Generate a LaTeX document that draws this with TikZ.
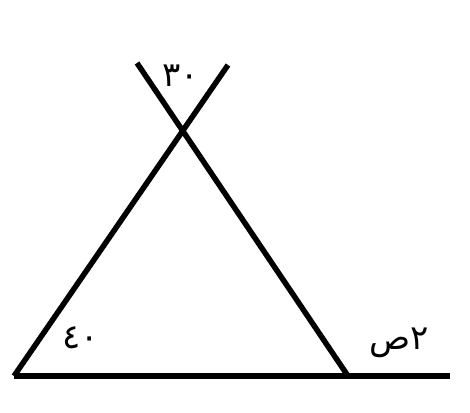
\documentclass[tikz,border=0pt]{standalone}
\usepackage{fontspec}
\newfontfamily\arabicfont[Script=Arabic]{DejaVu Sans}
\TeXXeTstate=1
\begin{document}
\begin{tikzpicture}[
    x=1pt,y=-1pt,
    font=\arabicfont\fontsize{34}{40}\selectfont,
    line/.style={line width=5.5pt},
    angle/.style={inner sep=0pt}
]
\useasboundingbox (0,0) rectangle (470,412);

% === Base ===
\coordinate (BL) at (14,376);
\coordinate (BR) at (450,376);
\coordinate (C) at (348,376);

% === Arms (crossing above the apex) ===
\coordinate (TL) at (137,63);
\coordinate (TR) at (228,65);

\draw[line] (BL) -- (BR);
\draw[line] (BL) -- (TR);
\draw[line] (C) -- (TL);

% === Angles ===
\node[angle] (A1) at (181,76) {٣٠};
\node[angle] (A2) at (81,338) {٤٠};
\node[angle] (A3) at (399,343) {\beginR ٢ص\endR};

\end{tikzpicture}
\end{document}
